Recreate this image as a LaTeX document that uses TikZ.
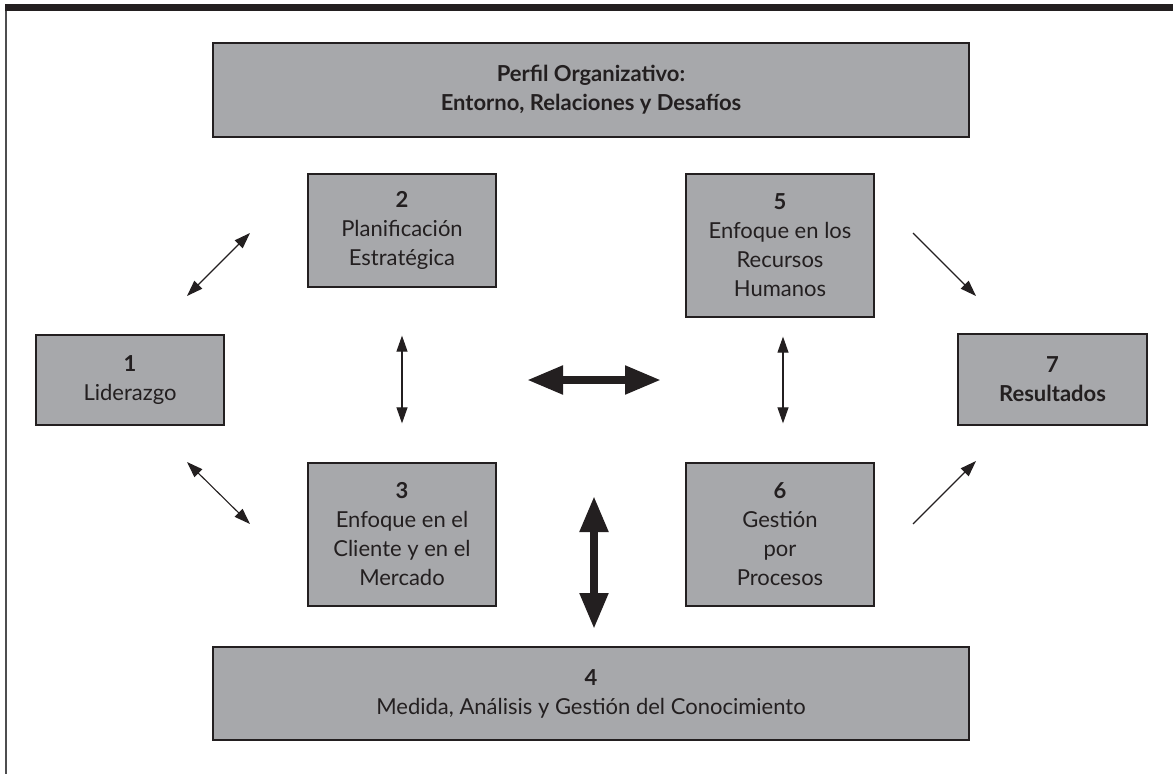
\documentclass[tikz,border=0pt]{standalone}
\usepackage{fontspec}
\setmainfont{Lato}
\usepackage{tikz}
\usetikzlibrary{arrows.meta}
\definecolor{ink}{HTML}{231F20}
\definecolor{boxgray}{HTML}{A7A8AB}
\definecolor{framegray}{HTML}{4D4D4F}
\tikzset{
  critbox/.style={rectangle,draw=ink,line width=1.3pt,fill=boxgray,text=ink,
    align=center,font=\fontsize{22}{29}\selectfont,inner sep=0pt,
    minimum width=188pt},
  widebox/.style={critbox,minimum width=756pt,minimum height=94pt},
  linkarr/.style={{Triangle[length=16pt,width=11pt]}-{Triangle[length=16pt,width=11pt]},
    line width=1.1pt,color=ink},
  feedarr/.style={-{Triangle[length=16pt,width=11pt]},line width=1.1pt,color=ink},
  corearr/.style={{Triangle[length=36pt,width=27pt]}-{Triangle[length=36pt,width=27pt]},
    line width=8pt,color=ink},
}

\begin{document}
\begin{tikzpicture}[x=1pt,y=-1pt]
  \useasboundingbox (0,0) rectangle (1173,774);
  % frame
  \fill[ink] (5,4) rectangle (1173,11);
  \draw[framegray,line width=2pt] (6,11) -- (6,774);
  % criteria boxes
  \node[widebox] (perfil) at (591,90) {\textbf{Perfil Organizativo:}\\\textbf{Entorno, Relaciones y Desafíos}};
  \node[critbox,minimum height=90pt] (lid) at (130,380) {\textbf{1}\\Liderazgo};
  \node[critbox,minimum height=113pt] (plan) at (402,230.5) {\textbf{2}\\Planificación\\Estratégica};
  \node[critbox,minimum height=143pt] (cli) at (402,534.5) {\textbf{3}\\Enfoque en el\\Cliente y en el\\Mercado};
  \node[widebox,minimum height=93pt] (med) at (591,693.5) {\textbf{4}\\Medida, Análisis y Gestión del Conocimiento};
  \node[critbox,minimum height=143pt] (rh) at (780,245.5) {\textbf{5}\\Enfoque en los\\Recursos\\Humanos};
  \node[critbox,minimum height=143pt] (proc) at (780,534.5) {\textbf{6}\\Gestión\\por\\Procesos};
  \node[critbox,minimum height=91pt,minimum width=189pt] (res) at (1052.5,379.5) {\textbf{7}\\\textbf{Resultados}};
  % arrow ends
  \coordinate (lidA) at (187,296);
  \coordinate (planA) at (250,233);
  \coordinate (lidB) at (187,462);
  \coordinate (cliA) at (250,524);
  \coordinate (rhA) at (913,233);
  \coordinate (resA) at (976,296);
  \coordinate (procA) at (913,524);
  \coordinate (resB) at (976,461);
  \coordinate (leftC) at (527,380);
  \coordinate (rightC) at (661,380);
  \coordinate (upC) at (594,496);
  \coordinate (downC) at (594,629);
  % links
  \draw[linkarr] (lidA) -- (planA);
  \draw[linkarr] (lidB) -- (cliA);
  \draw[linkarr,shorten <=48pt,shorten >=39pt] (plan) -- (cli);
  \draw[linkarr] ([xshift=3pt,yshift=-19pt]rh.south) -- ([xshift=3pt,yshift=39pt]proc.north);
  \draw[feedarr] (rhA) -- (resA);
  \draw[feedarr] (procA) -- (resB);
  \draw[corearr] (leftC) -- (rightC);
  \draw[corearr] (upC) -- (downC);
\end{tikzpicture}
\end{document}
